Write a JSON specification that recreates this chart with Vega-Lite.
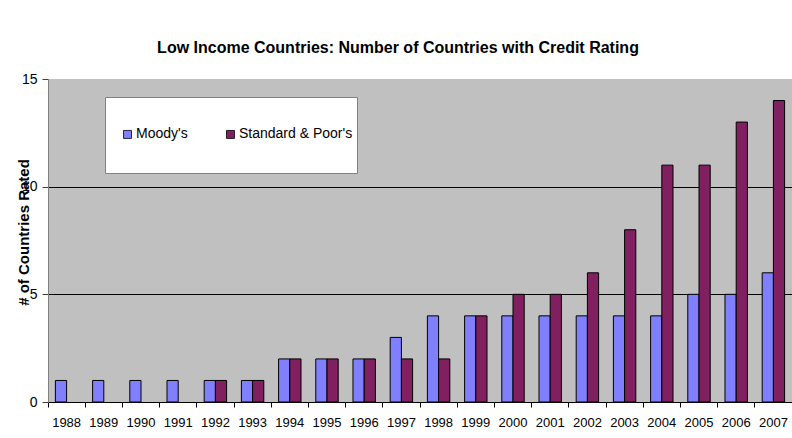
{
  "$schema": "https://vega.github.io/schema/vega-lite/v6.json",
  "width": 744,
  "height": 323,
  "autosize": {"type": "none"},
  "padding": {"left": 48, "top": 79, "right": 0, "bottom": 36},
  "background": "white",
  "config": {
    "font": "Liberation Sans, Arial",
    "view": {"fill": "#C0C0C0", "stroke": null}
  },
  "title": {
    "text": "Low Income Countries: Number of Countries with Credit Rating",
    "font": "Liberation Sans, Arial",
    "fontSize": 16,
    "fontWeight": "bold",
    "color": "black",
    "anchor": "middle",
    "dx": -22,
    "offset": 16
  },
  "data": {
    "values": [
      {"year": "1988", "agency": "Moody's", "count": 1},
      {"year": "1988", "agency": "Standard & Poor's", "count": 0},
      {"year": "1989", "agency": "Moody's", "count": 1},
      {"year": "1989", "agency": "Standard & Poor's", "count": 0},
      {"year": "1990", "agency": "Moody's", "count": 1},
      {"year": "1990", "agency": "Standard & Poor's", "count": 0},
      {"year": "1991", "agency": "Moody's", "count": 1},
      {"year": "1991", "agency": "Standard & Poor's", "count": 0},
      {"year": "1992", "agency": "Moody's", "count": 1},
      {"year": "1992", "agency": "Standard & Poor's", "count": 1},
      {"year": "1993", "agency": "Moody's", "count": 1},
      {"year": "1993", "agency": "Standard & Poor's", "count": 1},
      {"year": "1994", "agency": "Moody's", "count": 2},
      {"year": "1994", "agency": "Standard & Poor's", "count": 2},
      {"year": "1995", "agency": "Moody's", "count": 2},
      {"year": "1995", "agency": "Standard & Poor's", "count": 2},
      {"year": "1996", "agency": "Moody's", "count": 2},
      {"year": "1996", "agency": "Standard & Poor's", "count": 2},
      {"year": "1997", "agency": "Moody's", "count": 3},
      {"year": "1997", "agency": "Standard & Poor's", "count": 2},
      {"year": "1998", "agency": "Moody's", "count": 4},
      {"year": "1998", "agency": "Standard & Poor's", "count": 2},
      {"year": "1999", "agency": "Moody's", "count": 4},
      {"year": "1999", "agency": "Standard & Poor's", "count": 4},
      {"year": "2000", "agency": "Moody's", "count": 4},
      {"year": "2000", "agency": "Standard & Poor's", "count": 5},
      {"year": "2001", "agency": "Moody's", "count": 4},
      {"year": "2001", "agency": "Standard & Poor's", "count": 5},
      {"year": "2002", "agency": "Moody's", "count": 4},
      {"year": "2002", "agency": "Standard & Poor's", "count": 6},
      {"year": "2003", "agency": "Moody's", "count": 4},
      {"year": "2003", "agency": "Standard & Poor's", "count": 8},
      {"year": "2004", "agency": "Moody's", "count": 4},
      {"year": "2004", "agency": "Standard & Poor's", "count": 11},
      {"year": "2005", "agency": "Moody's", "count": 5},
      {"year": "2005", "agency": "Standard & Poor's", "count": 11},
      {"year": "2006", "agency": "Moody's", "count": 5},
      {"year": "2006", "agency": "Standard & Poor's", "count": 13},
      {"year": "2007", "agency": "Moody's", "count": 6},
      {"year": "2007", "agency": "Standard & Poor's", "count": 14}
    ]
  },
  "mark": {"type": "bar", "stroke": "black", "strokeWidth": 1, "filled": true},
  "encoding": {
    "x": {
      "field": "year",
      "type": "ordinal",
      "scale": {"paddingInner": 0, "paddingOuter": 0},
      "axis": {
        "title": null,
        "labelAngle": 0,
        "labelFontSize": 13,
        "labelColor": "black",
        "labelPadding": 9,
        "domainColor": "black",
        "tickColor": "black",
        "tickSize": 5,
        "bandPosition": 0,
        "grid": false
      }
    },
    "xOffset": {
      "field": "agency",
      "type": "nominal",
      "scale": {"paddingInner": 0, "paddingOuter": 0.66}
    },
    "y": {
      "field": "count",
      "type": "quantitative",
      "scale": {"domain": [0, 15], "nice": false},
      "axis": {
        "title": "# of Countries Rated",
        "titleFontSize": 15,
        "titleFontWeight": "bold",
        "titleColor": "black",
        "titleX": -25,
        "titleY": 153,
        "titleBaseline": "middle",
        "titleAlign": "center",
        "values": [0, 5, 10, 15],
        "labelFontSize": 14,
        "labelColor": "black",
        "labelPadding": 5,
        "tickSize": 6,
        "tickColor": "#404040",
        "domainColor": "#808080",
        "grid": true,
        "gridColor": {"condition": {"test": "datum.value == 15", "value": "#C0C0C0"}, "value": "black"},
        "gridOpacity": 1
      }
    },
    "strokeOpacity": {
      "condition": {"test": "datum.count == 0", "value": 0},
      "value": 1
    },
    "color": {
      "field": "agency",
      "type": "nominal",
      "scale": {"domain": ["Moody's", "Standard & Poor's"], "range": ["#8080FF", "#802060"]},
      "legend": {
        "title": null,
        "orient": "none",
        "legendX": 57,
        "legendY": 18,
        "direction": "horizontal",
        "fillColor": "white",
        "strokeColor": "#808080",
        "padding": 4,
        "symbolType": "M-0.569,-0.123h0.246v0.246h-0.246ZM-0.569,1.0h0",
        "symbolSize": 4225,
        "symbolStrokeColor": "black",
        "symbolStrokeWidth": 0.8,
        "labelFontSize": 14,
        "labelColor": "black",
        "labelOffset": -39,
        "columnPadding": 24
      }
    }
  }
}
